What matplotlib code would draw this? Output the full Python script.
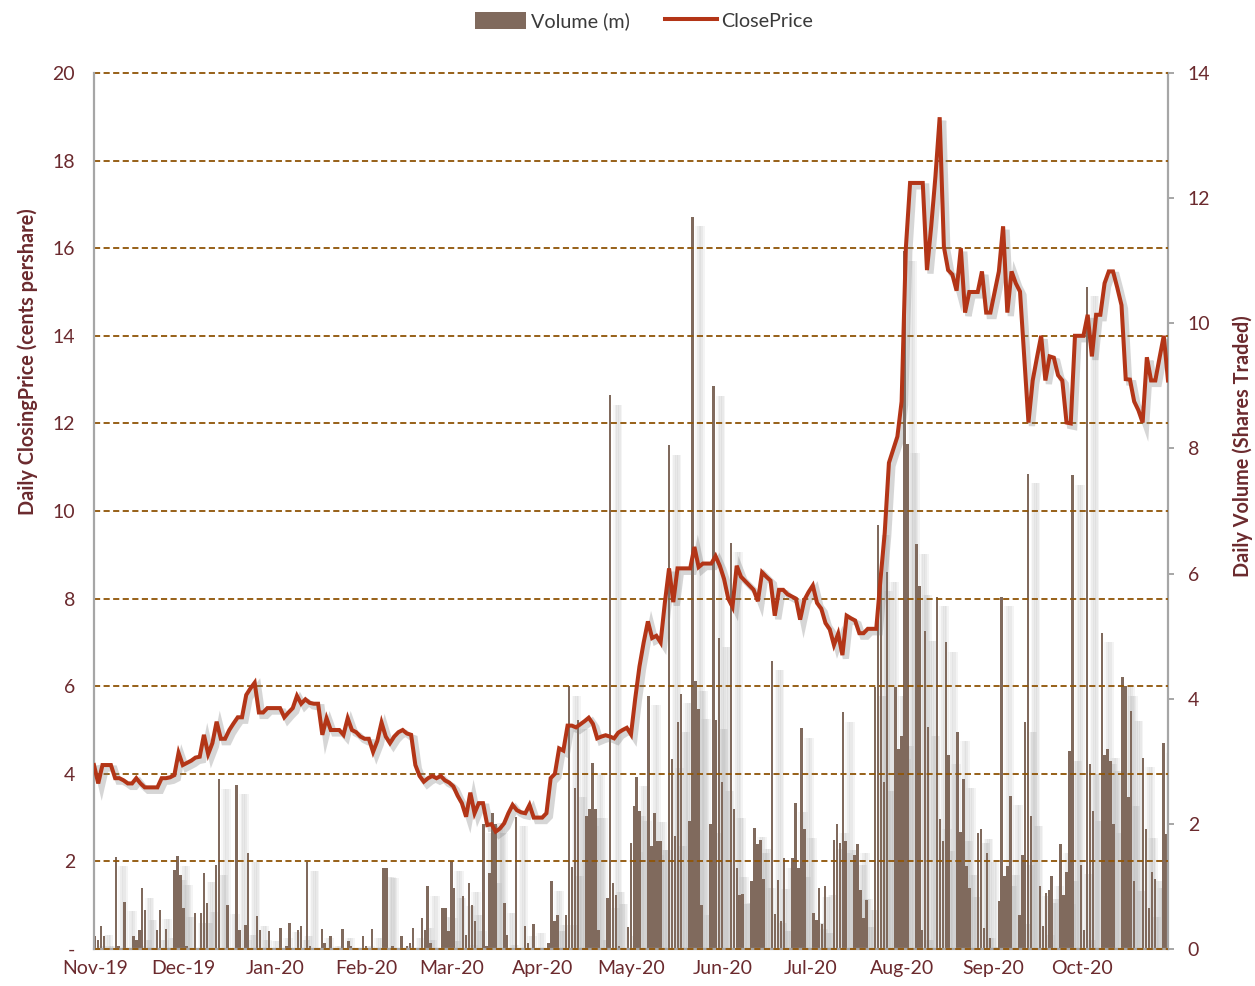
import matplotlib
matplotlib.use("Agg")
import matplotlib.pyplot as plt
import matplotlib.patheffects as pe
import numpy as np
import pandas as pd
import matplotlib.dates as mdates
from matplotlib.ticker import FixedLocator, FixedFormatter, FuncFormatter
from matplotlib.patches import Patch
from matplotlib.lines import Line2D

# ---------------- data ----------------
# closing price, one value per trading day (cents per share)
close_price = [
    4.2, 3.78, 4.2, 4.2, 4.2, 3.9, 3.9, 3.85, 3.78, 3.78,
    3.9, 3.78, 3.69, 3.69, 3.69, 3.69, 3.9, 3.9, 3.92, 3.97,
    4.48, 4.2, 4.25, 4.3, 4.37, 4.39, 4.89, 4.45, 4.7, 5.19,
    4.8, 4.8, 5.0, 5.15, 5.29, 5.29, 5.8, 5.95, 6.08, 5.4,
    5.4, 5.5, 5.5, 5.5, 5.5, 5.29, 5.4, 5.5, 5.78, 5.6,
    5.7, 5.62, 5.6, 5.6, 4.89, 5.27, 5.0, 5.0, 5.0, 4.89,
    5.27, 5.0, 4.95, 4.85, 4.8, 4.8, 4.5, 4.75, 5.17, 4.85,
    4.7, 4.85, 4.95, 5.0, 4.92, 4.89, 4.2, 3.95, 3.82, 3.9,
    3.95, 3.9, 3.95, 3.85, 3.8, 3.71, 3.5, 3.33, 3.02, 3.57,
    3.1, 3.33, 3.33, 2.83, 2.85, 2.68, 2.75, 2.87, 3.1, 3.29,
    3.17, 3.12, 3.1, 3.29, 3.0, 3.0, 3.0, 3.1, 3.9, 4.0,
    4.58, 4.53, 5.1, 5.1, 5.06, 5.13, 5.2, 5.28, 5.14, 4.81,
    4.85, 4.88, 4.85, 4.81, 4.94, 5.0, 5.05, 4.9, 5.72, 6.45,
    7.0, 7.48, 7.1, 7.15, 7.0, 7.9, 8.69, 7.92, 8.69, 8.69,
    8.69, 8.69, 9.18, 8.72, 8.8, 8.8, 8.8, 8.97, 8.75, 8.45,
    8.0, 7.81, 8.75, 8.5, 8.4, 8.3, 8.2, 7.94, 8.6, 8.5,
    8.41, 7.61, 8.2, 8.2, 8.1, 8.05, 8.0, 7.52, 7.97, 8.15,
    8.3, 7.9, 7.77, 7.44, 7.3, 6.94, 7.2, 6.71, 7.61, 7.55,
    7.5, 7.21, 7.21, 7.31, 7.31, 7.31, 8.43, 9.5, 11.1, 11.4,
    11.7, 12.5, 16.0, 17.49, 17.49, 17.49, 17.49, 15.5, 16.5, 17.64,
    18.99, 16.03, 15.5, 15.4, 15.03, 16.0, 14.53, 15.0, 15.0, 15.0,
    15.47, 14.53, 14.53, 15.0, 15.47, 16.5, 14.53, 15.47, 15.2, 15.01,
    13.53, 12.02, 12.98, 13.5, 14.0, 12.98, 13.53, 13.5, 13.1, 12.98,
    12.02, 12.0, 14.0, 14.0, 14.0, 14.48, 13.53, 14.48, 14.48, 15.2,
    15.47, 15.47, 15.1, 14.7, 13.01, 13.0, 12.5, 12.3, 12.02, 13.51,
    12.98, 12.98, 13.5, 14.0, 12.98,
]

# daily volume (millions of shares), one value per weekday, month by month
vol_oct19 = [0.1, 0.2, 0.15, 0.37]
vol_nov19 = [0.2, 0.0, 1.47, 0.05, 0.0, 0.75, 0.2, 0.15, 0.3, 0.97, 0.62,
             0.0, 0.3, 0.63, 0.0, 0.32, 1.26, 1.48, 1.18, 0.66, 0.05]
vol_dec19 = [0.57, 0.0, 0.57, 1.22, 0.74, 1.34, 2.71, 0.0, 0.0, 0.71,
             2.62, 0.3, 0.0, 0.38, 1.54, 0.52, 0.3, 0.0, 0.0, 0.28, 0.0, 0.33]
vol_jan20 = [0.0, 0.05, 0.42, 0.3, 0.36, 0.0, 1.39, 0.05, 0.0, 0.32, 0.1,
             0.0, 0.2, 0.0, 0.32, 0.0, 0.12, 0.05, 0.0, 0.2, 0.05, 0.0, 0.32]
vol_feb20 = [0.0, 1.3, 1.29, 0.0, 0.05, 0.2, 0.0, 0.05, 0.1, 0.33,
             0.49, 0.3, 1.0, 0.1, 0.0, 0.66, 0.65, 0.28, 1.4, 0.97]
vol_mar20 = [0.84, 0.22, 1.06, 0.7, 0.44, 2.0, 0.05, 1.21, 2.17, 2.0,
             0.73, 0.22, 0.0, 0.0, 2.11, 0.36, 0.1, 0.0, 0.4, 0.0, 0.0, 0.1]
vol_apr20 = [1.08, 0.44, 0.54, 0.54, 4.2, 1.31, 2.58, 3.66, 2.12, 2.24, 2.97,
             2.24, 0.3, 0.81, 8.85, 1.06, 0.87, 0.05, 0.35, 1.7, 2.28, 2.75]
vol_may20 = [2.2, 4.05, 1.65, 2.18, 1.73, 1.73, 8.05, 3.04, 1.8, 3.62, 4.08,
             2.05, 11.7, 4.28, 3.83, 0.7, 2.0, 8.99, 3.66, 4.97, 2.67]
vol_jun20 = [6.49, 2.24, 1.3, 0.87, 0.88, 1.09, 1.94, 1.68, 1.75, 1.12,
             4.61, 0.56, 1.11, 0.44, 1.45, 1.45, 2.34, 1.3, 3.53, 1.92, 0.57, 0.47]
vol_jul20 = [0.98, 0.4, 1.01, 1.75, 2.0, 1.69, 3.78, 1.73, 1.5, 1.68, 0.95,
             0.5, 0.78, 4.19, 6.77, 5.87, 2.67, 6.02, 4.19, 3.19, 3.4, 11.15, 8.07]
vol_aug20 = [6.47, 5.8, 0.3, 5.08, 3.55, 5.63, 2.07, 1.72, 4.9, 3.1,
             3.47, 1.87, 2.72, 1.33, 0.98, 1.85, 1.91, 0.33, 1.54, 0.18, 0.77]
vol_sep20 = [5.63, 1.16, 1.33, 2.45, 0.55, 1.5, 3.62, 7.59, 2.12, 1.0, 0.37,
             0.89, 0.95, 1.16, 1.68, 0.87, 1.23, 3.16, 7.57, 1.35, 0.3, 10.58]
vol_oct20 = [2.95, 2.2, 5.05, 3.1, 3.2, 3.0, 2.0, 4.35, 4.2, 2.43, 3.8,
             1.08, 3.06, 1.92, 0.66, 1.23, 1.12, 3.29, 1.83]

volume = (vol_oct19 + vol_nov19 + vol_dec19 + vol_jan20 + vol_feb20 + vol_mar20
          + vol_apr20 + vol_may20 + vol_jun20 + vol_jul20 + vol_aug20
          + vol_sep20 + vol_oct20)
vol_dates = pd.bdate_range("2019-10-28", "2020-10-27")

month_starts = pd.date_range("2019-11-01", "2020-10-01", freq="MS")
month_labels = [d.strftime("%b-%y") for d in month_starts]
price_ticks = list(range(0, 21, 2))
volume_ticks = list(range(0, 15, 2))

# ---------------- style ----------------
TXT = "#6b2a2e"
GRID = "#8f5406"
BAR = "#806a5d"
LINE = "#b33517"
SPINE = "#a6a6a6"
FONT = "Lato"
LABEL_SHIFT = -2.87      # where the category labels sit relative to month start (days)

W, H = 1255, 986
fig = plt.figure(figsize=(W / 100, H / 100), dpi=100)
L, R, T, B = 94, 1168, 73, 949
rect = [L / W, 1 - B / H, (R - L) / W, (B - T) / H]

axv = fig.add_axes(rect)          # volume, date axis, right scale
axp = axv.twinx()                 # price scale (left) + grid
axl = fig.add_axes(rect)          # price line, evenly spaced trading days
axl.set_facecolor("none")

axv.yaxis.tick_right()
axv.yaxis.set_label_position("right")
axp.yaxis.tick_left()
axp.yaxis.set_label_position("left")

xnum = mdates.date2num(vol_dates)
x0 = mdates.date2num(pd.Timestamp("2019-10-28")) + 0.61
x1 = mdates.date2num(pd.Timestamp("2020-10-27")) + 0.5

vol = np.array(volume)
for k, a in [(3.4, 0.09), (2.8, 0.10), (2.2, 0.09), (1.6, 0.06)]:
    axv.bar(xnum + k, np.clip(vol - 0.15, 0, None), width=1.5, color="#8c8c8c",
            alpha=a, linewidth=0, zorder=1)
axv.bar(xnum, vol, width=0.85, color=BAR, linewidth=0, zorder=2)
axv.set_xlim(x0, x1)
axv.set_ylim(0, 14)
axv.yaxis.set_major_locator(FixedLocator(volume_ticks))
axv.xaxis.set_major_locator(FixedLocator(mdates.date2num(month_starts) + LABEL_SHIFT))
axv.xaxis.set_major_formatter(FixedFormatter(month_labels))

axp.set_ylim(0, 20)
axp.yaxis.set_major_locator(FixedLocator(price_ticks))
axp.yaxis.set_major_formatter(FuncFormatter(lambda v, p: "-" if v == 0 else f"{int(v)}"))
axp.grid(axis="y", color=GRID, linestyle=(0, (3.4, 1.9)), linewidth=1.3)
for gl in axp.get_ygridlines():
    gl.set_clip_on(False)

idx = np.arange(len(close_price))
axl.plot(idx, close_price, color=LINE, linewidth=2.9, solid_joinstyle="miter",
         zorder=5,
         path_effects=[pe.SimpleLineShadow(offset=(2.5, -2.5), shadow_color="#7a7a7a",
                                           alpha=0.3, linewidth=4.5),
                       pe.Normal()])
axl.set_xlim(0, len(close_price) - 1)
axl.set_ylim(0, 20)
axl.axis("off")

for ax in (axv, axp):
    for s in ax.spines.values():
        s.set_visible(False)
for ax, side in ((axp, "left"), (axv, "right"), (axv, "bottom")):
    ax.spines[side].set_visible(True)
    ax.spines[side].set_color(SPINE)
    ax.spines[side].set_linewidth(1.6)

axp.tick_params(axis="y", length=0, pad=13.5, labelsize=14, labelcolor=TXT)
axv.tick_params(axis="y", length=4.3, width=1.4, color=SPINE, pad=10,
                labelsize=14, labelcolor=TXT)
axv.tick_params(axis="x", length=0, pad=8, labelsize=14, labelcolor=TXT)
for ax in (axv, axp):
    for lab in ax.get_xticklabels() + ax.get_yticklabels():
        lab.set_fontfamily(FONT)

fig.text(28 / W, 1 - 362 / H, "Daily ClosingPrice (cents pershare)", rotation=90,
         fontsize=14.3, fontweight="bold", color=TXT, fontfamily=FONT,
         ha="center", va="center")
fig.text(1243 / W, 1 - 446 / H, "Daily Volume (Shares Traded)", rotation=90,
         fontsize=14.3, fontweight="bold", color=TXT, fontfamily=FONT,
         ha="center", va="center")

handles = [Patch(facecolor=BAR, edgecolor="none"),
           Line2D([0], [0], color=LINE, linewidth=2.9)]
leg = fig.legend(handles, ["Volume (m)", "ClosePrice"], loc="center",
                 bbox_to_anchor=(644 / W, 1 - 21 / H), ncol=2, frameon=False,
                 prop={"family": FONT, "size": 14.2}, handlelength=2.6,
                 handleheight=0.95, columnspacing=1.8, handletextpad=0.25)
for t in leg.get_texts():
    t.set_color("#3a3a3a")

fig.savefig("out.png", dpi=100)
